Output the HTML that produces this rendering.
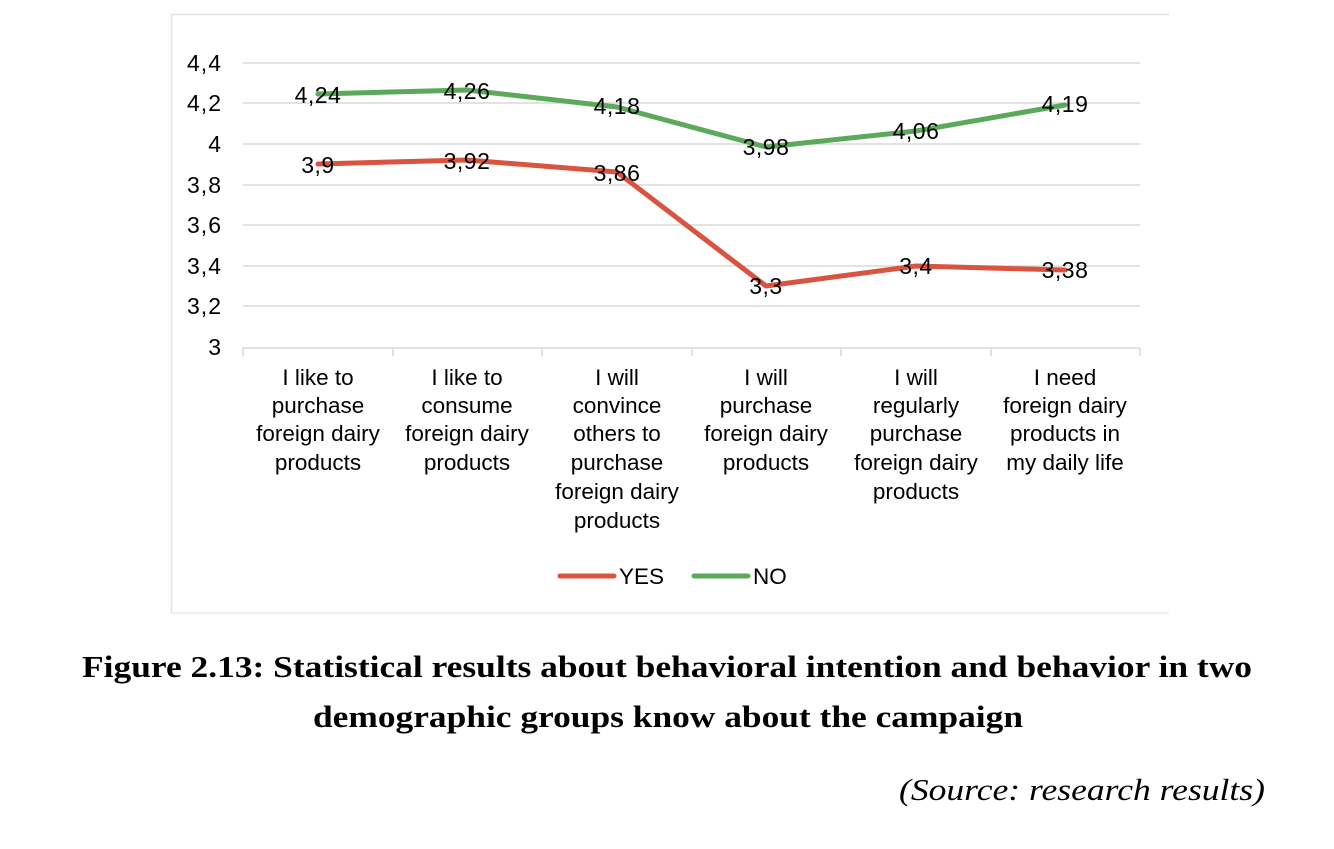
<!DOCTYPE html>
<html><head><meta charset="utf-8"><style>
body{margin:0;background:#fff;}
svg text{font-family:"Liberation Sans",Arial,sans-serif;}
</style></head><body>
<svg width="1334" height="844" viewBox="0 0 1334 844" xmlns="http://www.w3.org/2000/svg">
<path d="M171.5 613 V14.5 H1169" fill="none" stroke="#e3e3e3" stroke-width="1.5"/>
<line x1="171" y1="613" x2="1169" y2="613" stroke="#ececec" stroke-width="1.5"/>
<g stroke="#d9d9d9" stroke-width="1.5">
<line x1="243" y1="63" x2="1140" y2="63"/>
<line x1="243" y1="103" x2="1140" y2="103"/>
<line x1="243" y1="144" x2="1140" y2="144"/>
<line x1="243" y1="185" x2="1140" y2="185"/>
<line x1="243" y1="225" x2="1140" y2="225"/>
<line x1="243" y1="266" x2="1140" y2="266"/>
<line x1="243" y1="306" x2="1140" y2="306"/>
<line x1="243" y1="348" x2="1140" y2="348"/>
<line x1="243" y1="348" x2="243" y2="356"/><line x1="393" y1="348" x2="393" y2="356"/><line x1="542" y1="348" x2="542" y2="356"/><line x1="692" y1="348" x2="692" y2="356"/><line x1="841" y1="348" x2="841" y2="356"/><line x1="991" y1="348" x2="991" y2="356"/><line x1="1140" y1="348" x2="1140" y2="356"/>
</g>
<g font-size="23" text-anchor="end" fill="#000" letter-spacing="1">
<text x="222" y="71">4,4</text><text x="222" y="111">4,2</text><text x="222" y="152">4</text><text x="222" y="193">3,8</text><text x="222" y="233">3,6</text><text x="222" y="274">3,4</text><text x="222" y="314">3,2</text><text x="222" y="355">3</text>
</g>
<polyline points="318,94 467,90 617,107 766,147 916,131 1065,105" fill="none" stroke="#5ba95b" stroke-width="5" stroke-linejoin="round" stroke-linecap="round"/>
<polyline points="318,164 467,160 617,172 766,286 916,266 1065,270" fill="none" stroke="#d9533f" stroke-width="5" stroke-linejoin="round" stroke-linecap="round"/>
<g font-size="23" text-anchor="middle" fill="#000" letter-spacing="0.5">
<text x="318" y="103">4,24</text><text x="467" y="99">4,26</text><text x="617" y="114">4,18</text><text x="766" y="155">3,98</text><text x="916" y="139">4,06</text><text x="1065" y="112">4,19</text>
<text x="318" y="173">3,9</text><text x="467" y="169">3,92</text><text x="617" y="181">3,86</text><text x="766" y="294">3,3</text><text x="916" y="274">3,4</text><text x="1065" y="278">3,38</text>
</g>
<g font-size="22.5" text-anchor="middle" fill="#000">
<text x="318" y="385">I like to</text><text x="318" y="413">purchase</text><text x="318" y="441">foreign dairy</text><text x="318" y="470">products</text>
<text x="467" y="385">I like to</text><text x="467" y="413">consume</text><text x="467" y="441">foreign dairy</text><text x="467" y="470">products</text>
<text x="617" y="385">I will</text><text x="617" y="413">convince</text><text x="617" y="441">others to</text><text x="617" y="470">purchase</text><text x="617" y="499">foreign dairy</text><text x="617" y="528">products</text>
<text x="766" y="385">I will</text><text x="766" y="413">purchase</text><text x="766" y="441">foreign dairy</text><text x="766" y="470">products</text>
<text x="916" y="385">I will</text><text x="916" y="413">regularly</text><text x="916" y="441">purchase</text><text x="916" y="470">foreign dairy</text><text x="916" y="499">products</text>
<text x="1065" y="385">I need</text><text x="1065" y="413">foreign dairy</text><text x="1065" y="441">products in</text><text x="1065" y="470">my daily life</text>
</g>
<line x1="560" y1="576" x2="614" y2="576" stroke="#d9533f" stroke-width="5" stroke-linecap="round"/>
<text x="619" y="584" font-size="22.5">YES</text>
<line x1="694" y1="576" x2="748" y2="576" stroke="#5ba95b" stroke-width="5" stroke-linecap="round"/>
<text x="753" y="584" font-size="22.5">NO</text>
<g font-weight="bold" font-size="31">
<text x="82" y="677" textLength="1170" lengthAdjust="spacingAndGlyphs" style="font-family:'Liberation Serif',serif">Figure 2.13: Statistical results about behavioral intention and behavior in two</text>
<text x="313" y="727" textLength="710" lengthAdjust="spacingAndGlyphs" style="font-family:'Liberation Serif',serif">demographic groups know about the campaign</text>
</g>
<text x="899" y="800" textLength="366" lengthAdjust="spacingAndGlyphs" font-size="31" font-style="italic" style="font-family:'Liberation Serif',serif">(Source: research results)</text>
</svg>
</body></html>
